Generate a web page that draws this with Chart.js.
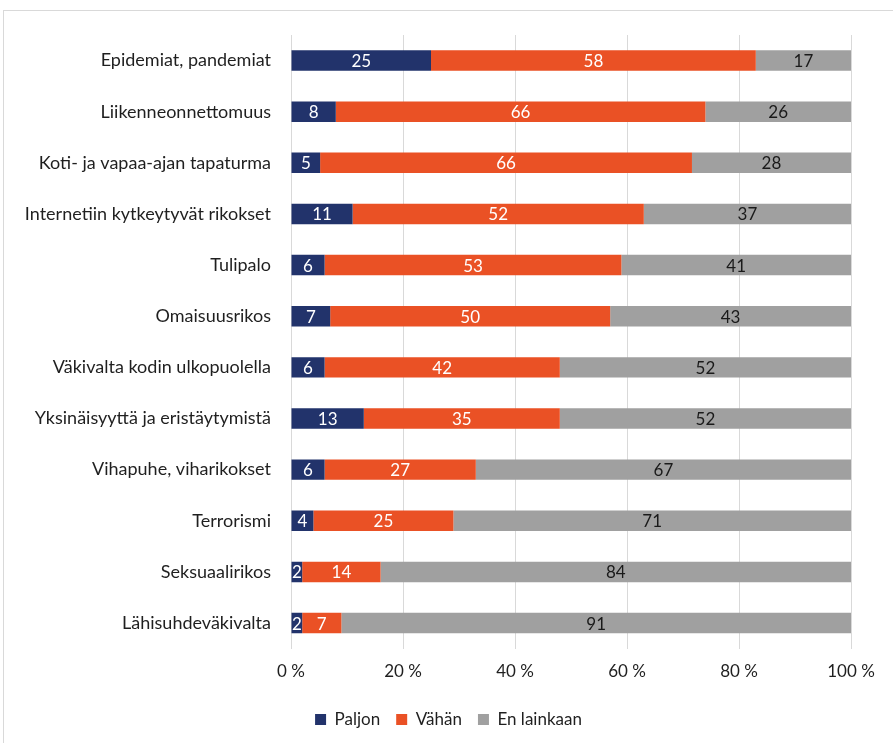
<html>
<head>
<script src="https://cdn.jsdelivr.net/npm/chart.js"></script>
<style>
  body { margin: 0; background: #fff; }
  #frame { position: absolute; left: 3px; top: 10px; width: 900px; height: 740px; border: 1px solid #d9d9d9; }
  #wrap { position: absolute; left: 0; top: 0; width: 893px; height: 743px; }
</style>
</head>
<body>
<div id="frame"></div>
<div id="wrap"><canvas id="chart"></canvas></div>
<script>
  const categories = [
    'Epidemiat, pandemiat',
    'Liikenneonnettomuus',
    'Koti- ja vapaa-ajan tapaturma',
    'Internetiin kytkeytyvät rikokset',
    'Tulipalo',
    'Omaisuusrikos',
    'Väkivalta kodin ulkopuolella',
    'Yksinäisyyttä ja eristäytymistä',
    'Vihapuhe, viharikokset',
    'Terrorismi',
    'Seksuaalirikos',
    'Lähisuhdeväkivalta'
  ];
  const paljon = [25, 8, 5.2, 11, 6, 7, 6, 13, 6, 4, 2, 2];
  const vahan = [58, 66, 66.4, 52, 53, 50, 42, 35, 27, 25, 14, 7];
  const enLainkaan = [17, 26, 28.4, 37, 41, 43, 52, 52, 67, 71, 84, 91];
  const xTicks = [0, 20, 40, 60, 80, 100];

  const fontFamily = 'Lato, "Open Sans", sans-serif';

  // numbers inside the bars
  const barLabels = {
    id: 'barLabels',
    afterDatasetsDraw(chart) {
      const ctx = chart.ctx;
      ctx.save();
      ctx.font = '17px ' + fontFamily;
      ctx.textAlign = 'center';
      ctx.textBaseline = 'middle';
      chart.data.datasets.forEach(function (ds, i) {
        const meta = chart.getDatasetMeta(i);
        ctx.fillStyle = i == 2 ? '#1a1a1a' : '#ffffff';
        meta.data.forEach(function (bar, j) {
          const x = (bar.x + bar.base) / 2;
          ctx.fillText(Math.round(ds.data[j]), x, bar.y + 1);
        });
      });
      ctx.restore();
    }
  };

  // legend sits a bit right of centre, like in the original
  const legendShift = {
    id: 'legendShift',
    afterLayout(chart) {
      if (chart.legend) chart.legend.left = 46;
    }
  };

  new Chart(document.getElementById('chart'), {
    type: 'bar',
    data: {
      labels: categories,
      datasets: [
        { label: 'Paljon', data: paljon, backgroundColor: '#22336b' },
        { label: 'Vähän', data: vahan, backgroundColor: '#ea5125' },
        { label: 'En lainkaan', data: enLainkaan, backgroundColor: '#a0a0a0' }
      ]
    },
    plugins: [barLabels, legendShift],
    options: {
      indexAxis: 'y',
      responsive: true,
      maintainAspectRatio: false,
      animation: false,
      layout: { padding: { top: 35, right: 42, bottom: 5, left: 0 } },
      datasets: { bar: { barPercentage: 0.4, categoryPercentage: 1.0 } },
      scales: {
        x: {
          stacked: true,
          min: 0,
          max: 100,
          afterBuildTicks(scale) { scale.ticks = xTicks.map(v => ({ value: v })); },
          grid: { color: '#d9d9d9', drawTicks: false },
          border: { display: false },
          ticks: {
            padding: 13,
            color: '#1f1f1f',
            font: { family: fontFamily, size: 17 },
            callback: v => v + ' %'
          }
        },
        y: {
          stacked: true,
          grid: { display: false },
          border: { display: false },
          afterFit(scale) { scale.width = 291; },
          ticks: {
            padding: 12,
            color: '#1f1f1f',
            font: { family: fontFamily, size: 18 }
          }
        }
      },
      plugins: {
        tooltip: { enabled: false },
        legend: {
          position: 'bottom',
          labels: {
            boxWidth: 11,
            boxHeight: 11,
            padding: 16,
            color: '#1f1f1f',
            font: { family: fontFamily, size: 17 }
          }
        }
      }
    }
  });
</script>
</body>
</html>
